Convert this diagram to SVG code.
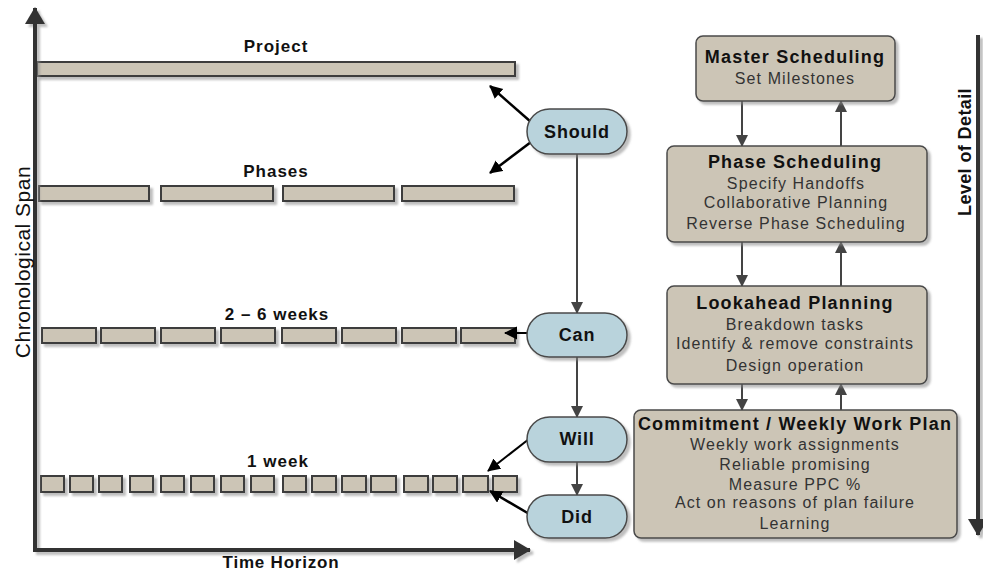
<svg xmlns="http://www.w3.org/2000/svg" width="983" height="574" viewBox="0 0 983 574">
<style>
.bar{fill:#CCC5B6;stroke:#3d3d3d;stroke-width:2}
.pill{fill:#B9D3DC;stroke:#4a4a4a;stroke-width:1.5}
.box{fill:#CCC5B6;stroke:#4a4a4a;stroke-width:1.5}
.lbl{font-family:"Liberation Sans",Arial,sans-serif;font-weight:bold;font-size:17px;fill:#111;text-anchor:middle;letter-spacing:1px}
.pt{font-family:"Liberation Sans",Arial,sans-serif;font-weight:bold;font-size:18px;fill:#111;text-anchor:middle;letter-spacing:0.8px}
.ttl{font-family:"Liberation Sans",Arial,sans-serif;font-weight:bold;font-size:18px;fill:#111;text-anchor:middle;letter-spacing:1.2px}
.sub{font-family:"Liberation Sans",Arial,sans-serif;font-size:16px;fill:#333;text-anchor:middle;letter-spacing:1.1px}
.ga{stroke:#444;stroke-width:2;fill:none}
.ba{stroke:#000;stroke-width:2.5;fill:none}
.ax{stroke:#333;stroke-width:4;fill:none}
</style>
<defs>
<filter id="sh" filterUnits="userSpaceOnUse" x="0" y="0" width="983" height="574">
<feDropShadow dx="3" dy="3" stdDeviation="1" flood-color="#888" flood-opacity="0.55"/>
</filter>
<marker id="mg" markerUnits="userSpaceOnUse" markerWidth="14" markerHeight="14" refX="11" refY="6" orient="auto">
<path d="M0,0 L12,6 L0,12 z" fill="#444"/>
</marker>
<marker id="mb" markerUnits="userSpaceOnUse" markerWidth="16" markerHeight="16" refX="12" refY="6.5" orient="auto">
<path d="M0,0 L13,6.5 L0,13 z" fill="#000"/>
</marker>
<marker id="ma" markerUnits="userSpaceOnUse" markerWidth="22" markerHeight="22" refX="16" refY="10" orient="auto">
<path d="M0,0 L17,10 L0,20 z" fill="#333"/>
</marker>
</defs>

<g id="bars" filter="url(#sh)">
<rect class="bar" x="37" y="62" width="478" height="14"/>
<rect class="bar" x="39" y="186" width="110" height="15"/>
<rect class="bar" x="161" y="186" width="112" height="15"/>
<rect class="bar" x="283" y="186" width="111" height="15"/>
<rect class="bar" x="402" y="186" width="112" height="15"/>
<rect class="bar" x="42" y="328" width="54" height="15"/>
<rect class="bar" x="101" y="328" width="54" height="15"/>
<rect class="bar" x="161" y="328" width="54" height="15"/>
<rect class="bar" x="221" y="328" width="54" height="15"/>
<rect class="bar" x="282" y="328" width="54" height="15"/>
<rect class="bar" x="342" y="328" width="54" height="15"/>
<rect class="bar" x="402" y="328" width="54" height="15"/>
<rect class="bar" x="461" y="328" width="54" height="15"/>
<rect class="bar" x="41" y="476" width="23" height="16"/>
<rect class="bar" x="70" y="476" width="23" height="16"/>
<rect class="bar" x="99" y="476" width="23" height="16"/>
<rect class="bar" x="130" y="476" width="23" height="16"/>
<rect class="bar" x="161" y="476" width="23" height="16"/>
<rect class="bar" x="191" y="476" width="23" height="16"/>
<rect class="bar" x="221" y="476" width="23" height="16"/>
<rect class="bar" x="251" y="476" width="23" height="16"/>
<rect class="bar" x="283" y="476" width="23" height="16"/>
<rect class="bar" x="312" y="476" width="24" height="16"/>
<rect class="bar" x="342" y="476" width="24" height="16"/>
<rect class="bar" x="371" y="476" width="25" height="16"/>
<rect class="bar" x="404" y="476" width="24" height="16"/>
<rect class="bar" x="433" y="476" width="24" height="16"/>
<rect class="bar" x="463" y="476" width="25" height="16"/>
<rect class="bar" x="493" y="476" width="24" height="16"/>
</g>

<g id="bar-labels">
<text class="lbl" x="276" y="52">Project</text>
<text class="lbl" x="276" y="177">Phases</text>
<text class="lbl" x="277" y="320">2 – 6 weeks</text>
<text class="lbl" x="278" y="467">1 week</text>
</g>

<g id="axes" filter="url(#sh)">
<line class="ax" x1="35" y1="552" x2="35" y2="8" marker-end="url(#ma)"/>
<line class="ax" x1="33" y1="550" x2="530" y2="550" marker-end="url(#ma)"/>
</g>
<text class="lbl" x="281" y="568" style="letter-spacing:0.8px">Time Horizon</text>
<text x="0" y="0" transform="translate(30,262) rotate(-90)" style="font-family:'Liberation Sans',Arial,sans-serif;font-size:21px;fill:#111;text-anchor:middle;letter-spacing:0.5px">Chronological Span</text>

<g id="connectors">
<line class="ba" x1="531" y1="122" x2="490" y2="86" marker-end="url(#mb)"/>
<line class="ba" x1="531" y1="142" x2="490" y2="173" marker-end="url(#mb)"/>
<line class="ba" x1="527" y1="333" x2="505" y2="333" marker-end="url(#mb)" style="stroke-width:2"/>
<line class="ba" x1="529" y1="439" x2="488" y2="471" marker-end="url(#mb)" style="stroke-width:2"/>
<line class="ba" x1="531" y1="515" x2="490" y2="491" marker-end="url(#mb)"/>
<line class="ga" x1="577" y1="154" x2="577" y2="313" marker-end="url(#mg)"/>
<line class="ga" x1="577" y1="357" x2="577" y2="417" marker-end="url(#mg)"/>
<line class="ga" x1="577" y1="462" x2="577" y2="495" marker-end="url(#mg)"/>
<line class="ga" x1="742" y1="101" x2="742" y2="146" marker-end="url(#mg)"/>
<line class="ga" x1="841" y1="146" x2="841" y2="101" marker-end="url(#mg)"/>
<line class="ga" x1="742" y1="242" x2="742" y2="286" marker-end="url(#mg)"/>
<line class="ga" x1="841" y1="286" x2="841" y2="242" marker-end="url(#mg)"/>
<line class="ga" x1="742" y1="384" x2="742" y2="410" marker-end="url(#mg)"/>
<line class="ga" x1="841" y1="410" x2="841" y2="384" marker-end="url(#mg)"/>
<line x1="978" y1="35" x2="978" y2="535" style="stroke:#333;stroke-width:4" marker-end="url(#ma)" filter="url(#sh)"/>
</g>
<text x="0" y="0" transform="translate(971,152) rotate(-90)" class="lbl" style="font-size:18px;letter-spacing:0.4px">Level of Detail</text>

<g id="should" filter="url(#sh)">
<rect class="pill" x="527" y="109" width="100" height="45" rx="22.5"/>
</g>
<text class="pt" x="577" y="138">Should</text>
<g id="can" filter="url(#sh)">
<rect class="pill" x="527" y="313" width="100" height="44" rx="22"/>
</g>
<text class="pt" x="577" y="341">Can</text>
<g id="will" filter="url(#sh)">
<rect class="pill" x="527" y="417" width="100" height="45" rx="22.5"/>
</g>
<text class="pt" x="577" y="445">Will</text>
<g id="did" filter="url(#sh)">
<rect class="pill" x="527" y="495" width="100" height="43" rx="21.5"/>
</g>
<text class="pt" x="577" y="523">Did</text>

<g id="master">
<rect class="box" x="696" y="36" width="199" height="65" rx="7" filter="url(#sh)"/>
<text class="ttl" x="795" y="63">Master Scheduling</text>
<text class="sub" x="795" y="84">Set Milestones</text>
</g>
<g id="phase">
<rect class="box" x="667" y="146" width="260" height="96" rx="7" filter="url(#sh)"/>
<text class="ttl" x="795" y="168">Phase Scheduling</text>
<text class="sub" x="796" y="189">Specify Handoffs</text>
<text class="sub" x="796" y="208">Collaborative Planning</text>
<text class="sub" x="796" y="229">Reverse Phase Scheduling</text>
</g>
<g id="lookahead">
<rect class="box" x="667" y="286" width="260" height="98" rx="7" filter="url(#sh)"/>
<text class="ttl" x="795" y="309">Lookahead Planning</text>
<text class="sub" x="795" y="330">Breakdown tasks</text>
<text class="sub" x="795" y="349">Identify &amp; remove constraints</text>
<text class="sub" x="795" y="371">Design operation</text>
</g>
<g id="commitment">
<rect class="box" x="634" y="410" width="323" height="128" rx="7" filter="url(#sh)"/>
<text class="ttl" x="795" y="430">Commitment / Weekly Work Plan</text>
<text class="sub" x="795" y="450">Weekly work assignments</text>
<text class="sub" x="795" y="470">Reliable promising</text>
<text class="sub" x="795" y="490">Measure PPC %</text>
<text class="sub" x="795" y="508">Act on reasons of plan failure</text>
<text class="sub" x="795" y="529">Learning</text>
</g>
</svg>
